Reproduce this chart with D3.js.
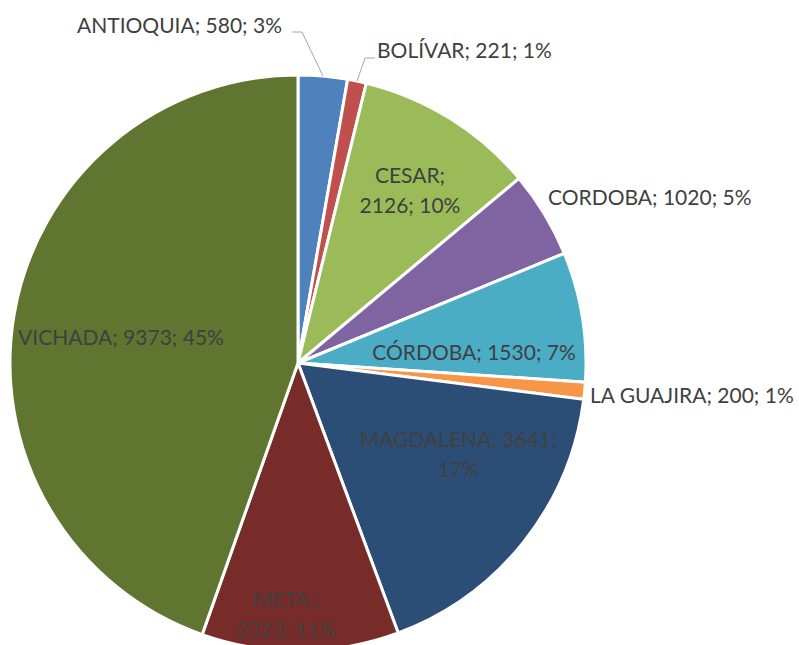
<!DOCTYPE html>
<html>
<head>
<meta charset="utf-8">
<script src="https://cdn.jsdelivr.net/npm/d3@7"></script>
<style>
  body { margin: 0; background: #fff; }
  .lbl { font-family: Lato, "Open Sans", sans-serif; font-size: 21px; fill: #404040; }
  .leader { fill: none; stroke: #a6a6a6; stroke-width: 1; }
  .slice { stroke: #fff; stroke-width: 3; }
</style>
</head>
<body>
<svg id="chart" width="799" height="645"></svg>
<script>
// data
var departments = ["ANTIOQUIA", "BOLÍVAR", "CESAR", "CORDOBA", "CÓRDOBA", "LA GUAJIRA", "MAGDALENA", "META ", "VICHADA"];
var hectares = [580, 221, 2126, 1020, 1530, 200, 3641, 2323, 9373];
var colors = ["#4f81bd", "#c0504d", "#9bbb59", "#8064a2", "#4bacc6", "#f79646", "#2c4d75", "#772c2a", "#5f7530"];

// label placement (relative to pie centre); split = where the label wraps
var labelLayout = [
  { x: -16, y: -330, anchor: "end", elbow: [4, -331] },
  { x: 79, y: -305, anchor: "start", elbow: [67, -305] },
  { x: 112, y: -180, anchor: "middle", split: 1 },
  { x: 250, y: -158, anchor: "start" },
  { x: 176, y: -3, anchor: "middle" },
  { x: 292, y: 40, anchor: "start" },
  { x: 160, y: 84, anchor: "middle", split: 2 },
  { x: -12, y: 244, anchor: "middle", split: 1 },
  { x: -177, y: -18, anchor: "middle" }
];

var cx = 298, cy = 363, R = 288;
var svg = d3.select("#chart");
var g = svg.append("g").attr("transform", "translate(" + cx + "," + cy + ")");

var total = d3.sum(hectares);
var pct = d3.format(".0%");
var rows = departments.map(function(d, i) { return { name: d, value: hectares[i], i: i }; });

var pie = d3.pie().sort(null).value(function(d) { return d.value; });
var arc = d3.arc().innerRadius(0).outerRadius(R);
var arcs = pie(rows);

g.selectAll("path.slice")
  .data(arcs)
  .enter()
  .append("path")
  .attr("class", "slice")
  .attr("fill", function(d) { return colors[d.data.i]; })
  .attr("d", arc);

// leader lines for the small outside labels
arcs.forEach(function(d) {
  var L = labelLayout[d.data.i];
  if (!L.elbow) return;
  var mid = (d.startAngle + d.endAngle) / 2;
  var p0 = [R * Math.sin(mid), -R * Math.cos(mid)];
  var dir = L.anchor == "end" ? -1 : 1;
  var p2 = [L.elbow[0] + dir * 10, L.elbow[1]];
  g.append("path")
    .attr("class", "leader")
    .attr("d", "M" + p0 + "L" + L.elbow + "L" + p2);
});

arcs.forEach(function(d) {
  var L = labelLayout[d.data.i];
  var parts = [d.data.name + ";", d.data.value + ";", pct(d.data.value / total)];
  var lines;
  if (L.split) {
    lines = [parts.slice(0, L.split).join(" "), parts.slice(L.split).join(" ")];
  } else {
    lines = [parts.join(" ")];
  }
  var t = g.append("text")
    .attr("class", "lbl")
    .attr("text-anchor", L.anchor)
    .attr("x", L.x)
    .attr("y", L.y);
  lines.forEach(function(s, k) {
    t.append("tspan")
      .attr("x", L.x)
      .attr("dy", k == 0 ? 0 : 30)
      .text(s);
  });
});
</script>
</body>
</html>
